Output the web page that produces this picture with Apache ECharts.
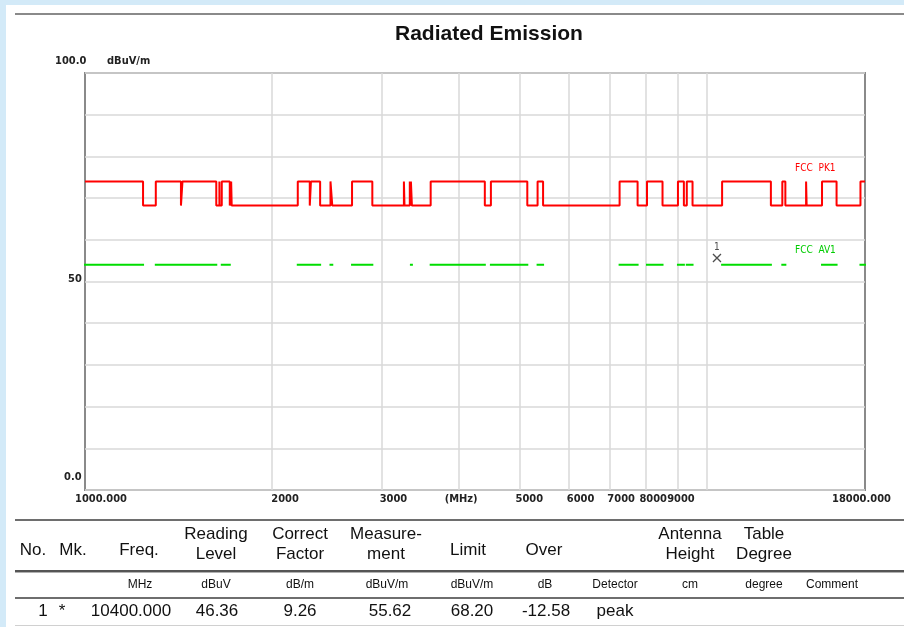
<!DOCTYPE html>
<html>
<head>
<meta charset="utf-8">
<script src="https://cdn.jsdelivr.net/npm/echarts@6.0.0/dist/echarts.min.js"></script>
<style>
  html, body { margin: 0; padding: 0; width: 904px; height: 627px; overflow: hidden; background: #d3eaf8; }
  #page { position: absolute; left: 6px; top: 5px; right: 0; bottom: 0; background: #fff; }
  #chart { position: absolute; left: 0; top: 0; width: 904px; height: 627px; }
  .rule { position: absolute; left: 15px; right: 0; }
  .cell { position: absolute; transform: translate(-50%, -50%); white-space: nowrap; text-align: center;
          font-family: "Liberation Sans", Arial, sans-serif; color: #111; }
  .hd { font-size: 17px; line-height: 20px; }
  .un { font-size: 12px; }
  .vl { font-size: 17px; }
</style>
</head>
<body>
<div id="page"></div>
<div class="rule" style="top:13px;height:2px;background:#8a8a8a"></div>
<div id="chart"></div>
<div class="rule" style="top:519px;height:2px;background:#6e6e6e"></div>
<div class="rule" style="top:570px;height:2px;background:#555"></div>
<div class="rule" style="top:572px;height:1px;background:#b0b0b0"></div>
<div class="rule" style="top:597px;height:2px;background:#6e6e6e"></div>
<div class="rule" style="top:625px;height:1px;background:#d0d0d0"></div>
<div id="table"></div>
<script>
// frequency span of the plot (MHz)
const FREQ_MIN = 1000;
const FREQ_MAX = 18000;

// restricted bands where the 74 / 54 dBuV/m limits apply (MHz)
const bandStart = [960, 1300, 1435, 1645.5, 1660, 1718.8, 2200, 2310, 2483.5, 2690, 3260, 3332, 3345.8,
                   3600, 4500, 5350, 7250, 8025, 9000, 9300, 10600, 13250, 14470, 15350, 17700];
const bandEnd   = [1240, 1427, 1626.5, 1646.5, 1710, 1722.2, 2300, 2390, 2500, 2900, 3267, 3339, 3358,
                   4400, 5150, 5460, 7750, 8500, 9200, 9500, 12700, 13400, 14500, 16200, 21400];

const LIMIT_PK = 74;     // FCC PK1 inside restricted bands
const LIMIT_AV = 54;     // FCC AV1 inside restricted bands
const LIMIT_OUT = 68.2;  // outside restricted bands

// marker 1
const markerFreq = [10400];
const markerLevel = [55.62];

// axis ticks / labels
const xGridValues = [2000, 3000, 4000, 5000, 6000, 7000, 8000, 9000, 10000];
const xLabelValues = [1000, 2000, 3000, 4000, 5000, 6000, 7000, 8000, 9000, 18000];
const xLabelText = ['1000.000', '2000', '3000', '(MHz)', '5000', '6000', '7000', '8000', '9000', '18000.000'];
const yLabelText = { 0: '0.0', 50: '50', 100: '100.0' };

// table
const tableHeaders = ['No.', 'Mk.', 'Freq.', 'Reading<br>Level', 'Correct<br>Factor', 'Measure-<br>ment',
                      'Limit', 'Over', 'Antenna<br>Height', 'Table<br>Degree'];
const tableUnits = ['MHz', 'dBuV', 'dB/m', 'dBuV/m', 'dBuV/m', 'dB', 'Detector', 'cm', 'degree', 'Comment'];
const tableRow = ['1', '*', '10400.000', '46.36', '9.26', '55.62', '68.20', '-12.58', 'peak'];

// ---- build the limit traces from the band list
const pk = [];
const av = [];
let cur = FREQ_MIN;
bandStart.forEach((s, i) => {
  const a = Math.max(s, FREQ_MIN);
  const b = Math.min(bandEnd[i], FREQ_MAX);
  if (a > cur) pk.push([cur, LIMIT_OUT], [a, LIMIT_OUT]);
  pk.push([a, LIMIT_PK], [b, LIMIT_PK]);
  if (av.length) av.push([a, '-']);
  av.push([a, LIMIT_AV], [b, LIMIT_AV]);
  cur = b;
});
if (cur < FREQ_MAX) pk.push([cur, LIMIT_OUT], [FREQ_MAX, LIMIT_OUT]);

// label shifts (style only): centre-aligned labels nudged with rich padding
const xLabelPad = [[0, 0, 0, 32], [0, 0, 0, 26], [0, 0, 0, 24], [0, 0, 0, 4], [0, 0, 0, 20],
                   [0, 0, 0, 24], [0, 0, 0, 22], [0, 0, 0, 14], [0, 0, 0, 6], [0, 7, 0, 0]];
const xRich = {};
xLabelPad.forEach((p, i) => { xRich['l' + i] = { padding: p }; });

const axisFont = '"DejaVu Sans Condensed", "Liberation Sans Narrow", "DejaVu Sans", sans-serif';

const chart = echarts.init(document.getElementById('chart'));
chart.setOption({
  animation: false,
  backgroundColor: 'transparent',
  title: {
    text: 'Radiated Emission',
    left: 395,
    top: 24,
    padding: 0,
    textStyle: { fontFamily: '"Liberation Sans", Arial, sans-serif', fontSize: 21, fontWeight: 'bold', color: '#111' }
  },
  grid: {
    left: 85, top: 73, width: 780, height: 417,
    show: true, borderColor: '#8a8a8a', borderWidth: 2
  },
  xAxis: {
    type: 'log',
    logBase: 10,
    min: FREQ_MIN,
    max: FREQ_MAX,
    axisLine: { show: false },
    axisTick: { show: false, customValues: xGridValues },
    splitLine: { show: true, lineStyle: { color: '#d8d8d8', width: 1.5 } },
    axisLabel: {
      customValues: xLabelValues,
      margin: 4,
      fontFamily: axisFont,
      fontSize: 11,
      fontWeight: 'bold',
      color: '#222',
      align: 'center',
      rich: xRich,
      formatter: (v) => {
        const i = xLabelValues.findIndex((x) => Math.abs(v - x) / x < 1e-6);
        return i < 0 ? '' : `{l${i}|${xLabelText[i]}}`;
      }
    }
  },
  yAxis: {
    type: 'value',
    min: 0,
    max: 100,
    interval: 10,
    name: 'dBuV/m',
    nameLocation: 'end',
    nameGap: 12,
    nameTextStyle: {
      fontFamily: axisFont, fontSize: 11, fontWeight: 'bold', color: '#222',
      align: 'left', verticalAlign: 'middle', padding: [0, 0, 0, 22]
    },
    axisLine: { show: false },
    axisTick: { show: false },
    splitLine: { show: true, lineStyle: { color: '#d8d8d8', width: 1.5 } },
    axisLabel: {
      margin: 30,
      align: 'left',
      fontFamily: axisFont,
      fontSize: 11,
      fontWeight: 'bold',
      color: '#222',
      rich: {
        b: { padding: [0, 0, 26, 9] },
        m: { padding: [0, 0, 5, 13] },
        t: { padding: [0, 0, 24, 0] }
      },
      formatter: (v) => {
        if (v === 0) return '{b|' + yLabelText[0] + '}';
        if (v === 50) return '{m|' + yLabelText[50] + '}';
        if (v === 100) return '{t|' + yLabelText[100] + '}';
        return '';
      }
    }
  },
  series: [
    {
      name: 'FCC PK1',
      type: 'line',
      data: pk,
      showSymbol: false,
      lineStyle: { color: '#ff0000', width: 2 },
      endLabel: {
        show: true, formatter: 'FCC  PK1', offset: [-70, -13], distance: 0,
        color: '#ff0000', fontFamily: axisFont, fontSize: 10
      }
    },
    {
      name: 'FCC AV1',
      type: 'line',
      data: av,
      showSymbol: false,
      connectNulls: false,
      lineStyle: { color: '#00dd00', width: 2, cap: 'square' },
      endLabel: {
        show: true, formatter: 'FCC  AV1', offset: [-70, -14], distance: 0,
        color: '#00cc00', fontFamily: axisFont, fontSize: 10
      }
    },
    {
      name: 'Marker',
      type: 'scatter',
      data: markerFreq.map((f, i) => [f, markerLevel[i]]),
      symbol: 'path://M0,0L8,8M8,0L0,8',
      symbolSize: 8,
      itemStyle: { color: 'transparent', borderColor: '#222', borderWidth: 1.3 },
      label: { show: true, position: 'top', distance: 1, formatter: '1', fontSize: 10, color: '#222', fontFamily: axisFont }
    }
  ]
});

// ---- table text (positions are layout only)
const headerX = [33, 73, 139, 216, 300, 386, 468, 544, 690, 764];
const unitX = [140, 216, 300, 387, 472, 545, 615, 690, 764, 832];
const rowX = [43, 62, 131, 217, 300, 390, 472, 546, 615];
const table = document.getElementById('table');
function put(txt, x, y, cls) {
  const d = document.createElement('div');
  d.className = 'cell ' + cls;
  d.style.left = x + 'px';
  d.style.top = y + 'px';
  d.innerHTML = txt;
  table.appendChild(d);
}
tableHeaders.forEach((t, i) => put(t, headerX[i], t.includes('<br>') ? 544 : 550, 'hd'));
tableUnits.forEach((t, i) => put(t, unitX[i], 584, 'un'));
tableRow.forEach((t, i) => put(t, rowX[i], 611, 'vl'));
</script>
</body>
</html>
